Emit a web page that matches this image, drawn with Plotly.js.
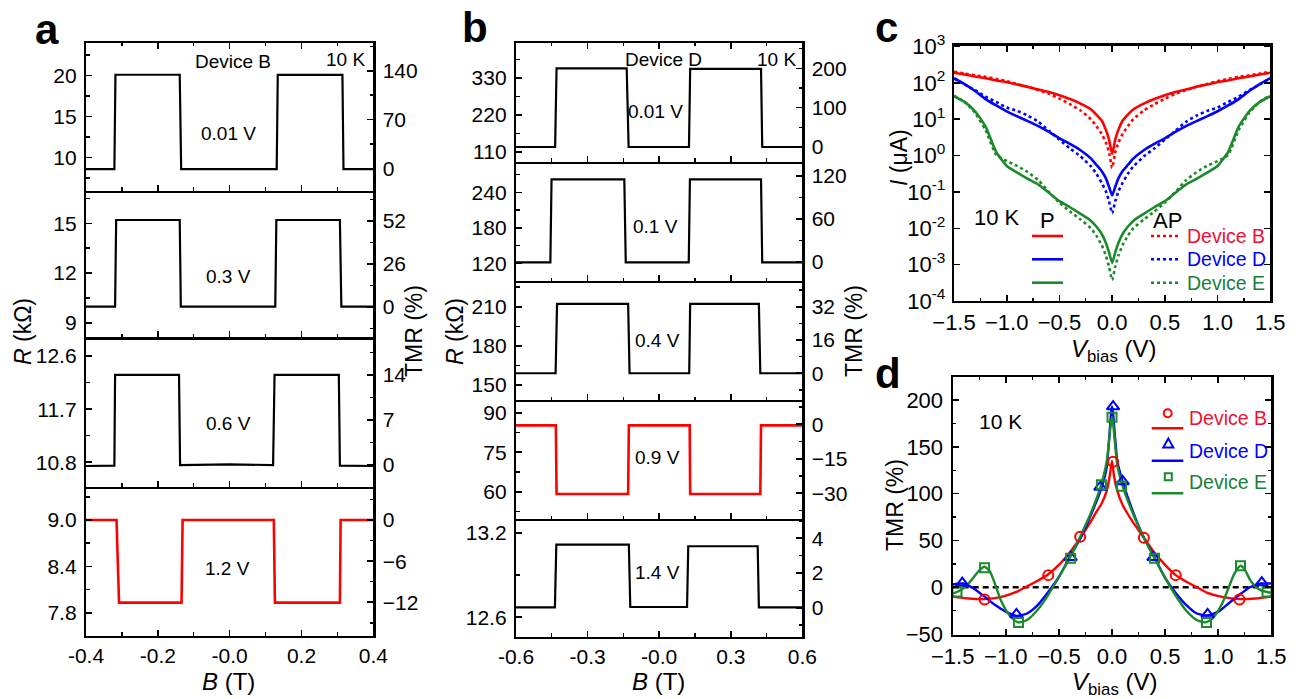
<!DOCTYPE html>
<html><head><meta charset="utf-8">
<script src="https://cdn.plot.ly/plotly-3.0.1.min.js"></script>
<style>html,body{margin:0;padding:0;background:#fff}#chart{width:1298px;height:699px}</style>
</head><body><div id="chart"></div>
<script>
// ================= DATA =================
// Panel a (Device B, 10 K): field sweep B (T) and resistance R (kΩ)
const a1_B = [-0.4, -0.321, -0.318, -0.139, -0.135, 0.131, 0.134, 0.314, 0.317, 0.4];
const a1_R = [8.55, 8.55, 20.07, 20.07, 8.55, 8.55, 20.05, 20.05, 8.55, 8.55];
const a2_B = [-0.4, -0.319, -0.316, -0.139, -0.136, 0.127, 0.130, 0.307, 0.311, 0.4];
const a2_R = [9.97, 9.97, 15.2, 15.2, 9.97, 9.97, 15.2, 15.2, 9.97, 9.97];
const a3_B = [-0.4, -0.321, -0.319, -0.141, -0.138, 0.0, 0.121, 0.125, 0.304, 0.307, 0.4];
const a3_R = [10.737, 10.745, 12.28, 12.28, 10.752, 10.766, 10.752, 12.28, 12.28, 10.745, 10.737];
const a4_B = [-0.4, -0.315, -0.308, -0.134, -0.131, 0.123, 0.126, 0.307, 0.309, 0.4];
const a4_R = [9.0, 9.0, 7.93, 7.93, 9.0, 9.0, 7.93, 7.93, 9.0, 9.0];
const aBias = ['0.01 V', '0.3 V', '0.6 V', '1.2 V'];

// Panel b (Device D, 10 K)
const b1_B = [-0.6, -0.436, -0.430, -0.136, -0.128, 0.125, 0.130, 0.427, 0.432, 0.6];
const b1_R = [124, 124, 358, 358, 124, 124, 356, 356, 124, 124];
const b2_B = [-0.6, -0.456, -0.451, -0.146, -0.140, 0.124, 0.129, 0.427, 0.432, 0.6];
const b2_R = [121.7, 121.7, 262, 262, 121.7, 121.7, 262, 262, 121.7, 121.7];
const b3_B = [-0.6, -0.434, -0.428, -0.130, -0.124, 0.126, 0.130, 0.418, 0.424, 0.6];
const b3_R = [159.0, 159.0, 212.1, 212.1, 159.0, 159.0, 212.1, 212.1, 159.0, 159.0];
const b4_B = [-0.6, -0.433, -0.430, -0.130, -0.127, 0.128, 0.130, 0.424, 0.427, 0.6];
const b4_R = [85.2, 85.2, 59.1, 59.1, 85.2, 85.2, 59.1, 59.1, 85.2, 85.2];
const b5_B = [-0.6, -0.437, -0.431, -0.127, -0.121, 0.117, 0.122, 0.413, 0.418, 0.6];
const b5_R = [12.671, 12.671, 13.115, 13.115, 12.673, 12.673, 13.104, 13.104, 12.671, 12.671];
const bBias = ['0.01 V', '0.1 V', '0.4 V', '0.9 V', '1.4 V'];

// Panel c: I-V curves, I (µA), P (solid) and AP (dotted)
const c_V = [-1.5,-1.4,-1.3,-1.2,-1.1,-1.0,-0.9,-0.8,-0.7,-0.6,-0.5,-0.4,-0.3,-0.2,-0.15,-0.1,-0.06,-0.03,0,
             0.03,0.06,0.1,0.15,0.2,0.3,0.4,0.5,0.6,0.7,0.8,0.9,1.0,1.1,1.2,1.3,1.4,1.5];
const cB_P  = [190,170,151,135,117,105,91,78,66,56,46,36,27,18.6,13.5,9.3,5.2,2.8,1.12,
               2.8,5.2,9.3,13.5,18.6,27,36,46,56,66,78,91,105,117,135,151,170,190];
const cB_AP = [204,182,162,148,129,112,93,78,63,50,37,26,17.4,10,6.5,4.0,2.3,1.26,0.46,
               1.26,2.3,4.0,6.5,10,17.4,26,37,50,63,78,93,112,129,148,162,182,204];
const cD_P  = [135,93,60,36,24,16.6,12,8.9,6.5,4.5,3.0,2.1,1.41,0.83,0.56,0.38,0.24,0.14,0.081,
               0.14,0.24,0.38,0.56,0.83,1.41,2.1,3.0,4.5,6.5,8.9,12,16.6,24,36,60,93,135];
const cD_AP = [132,91,63,42,30,21,17,12.6,8.5,4.8,2.75,1.58,0.95,0.50,0.32,0.18,0.105,0.056,0.026,
               0.056,0.105,0.18,0.32,0.50,0.95,1.58,2.75,4.8,8.5,12.6,17,21,30,42,63,91,132];
const cE_P  = [43,30,16.6,6.3,1.26,0.52,0.34,0.23,0.16,0.095,0.056,0.038,0.025,0.016,0.0112,0.0071,0.004,0.0022,0.00112,
               0.0022,0.004,0.0071,0.0112,0.016,0.025,0.038,0.056,0.095,0.16,0.23,0.34,0.52,1.26,6.3,16.6,30,43];
const cE_AP = [45,30,15,5.0,1.05,0.71,0.52,0.35,0.21,0.10,0.051,0.029,0.0174,0.010,0.0063,0.0035,0.0018,0.00089,0.00038,
               0.00089,0.0018,0.0035,0.0063,0.010,0.0174,0.029,0.051,0.10,0.21,0.35,0.52,0.71,1.05,5.0,15,30,45];
const cDevices = ['Device B', 'Device D', 'Device E'];

// Panel d: TMR (%) vs V_bias (V), measured points and guide lines
const dB_V = [-1.2,-0.6,-0.3,0.01,0.3,0.6,1.2];
const dB_T = [-13,13,54,134,53,13,-13];
const dD_V = [-1.41,-0.9,-0.39,-0.11,0.01,0.1,0.39,0.9,1.41];
const dD_T = [4.5,-29,32,107,193,113,32,-29,5];
const dE_V = [-1.46,-1.2,-0.88,-0.39,-0.1,0.0,0.09,0.4,0.89,1.21,1.46];
const dE_T = [-5,21,-37.5,31,109.6,181.7,108,31,-37.5,23,-5];
const dBl_V = [-1.5,-1.35,-1.2,-1.05,-0.9,-0.8,-0.7,-0.6,-0.5,-0.4,-0.3,-0.2,-0.15,-0.1,-0.05,-0.02,0,0.02,0.05,0.1,0.15,0.2,0.3,0.4,0.5,0.6,0.7,0.8,0.9,1.05,1.2,1.35,1.5];
const dBl_T = [-10,-12,-12.5,-10.5,-5,1,7,14,24,37,52.5,70,80,89,103,120,135,118,103,88,78,69,53,37,24,13,6,0,-6,-10.5,-12.5,-12,-10];
const dDl_V = [-1.5,-1.4,-1.3,-1.2,-1.1,-1.0,-0.9,-0.8,-0.7,-0.6,-0.5,-0.4,-0.3,-0.2,-0.1,-0.05,0,0.05,0.1,0.2,0.3,0.4,0.5,0.6,0.7,0.8,0.9,1.0,1.1,1.2,1.3,1.4,1.5];
const dDl_T = [3,4,-1.5,-10,-19,-26,-30.5,-28,-19,-5,11,32,52,77,106,128,193,135,113,80,53,32,10,-6,-19,-28,-30,-26,-17,-8,0,4,4];
const dEl_V = [-1.5,-1.46,-1.4,-1.35,-1.3,-1.25,-1.2,-1.15,-1.1,-1.05,-1.0,-0.95,-0.88,-0.8,-0.7,-0.6,-0.5,-0.4,-0.3,-0.2,-0.1,-0.05,0,0.05,0.1,0.2,0.3,0.4,0.5,0.6,0.7,0.8,0.88,0.95,1.0,1.05,1.1,1.15,1.21,1.25,1.3,1.35,1.4,1.46,1.5];
const dEl_T = [-6.5,-5,-1,4,11,18,22,17,3,-13,-24,-32,-37.5,-35,-24,-8,11,31,54,79,110,134,182,130,108,78,53,31,10,-9,-25,-35,-37.5,-33,-25,-14,0,14,23,19,8,1,-3,-5,-6];
const dZero_V = [-1.5, 1.5];
const dZero_T = [0, 0];

// ================= STYLE / LAYOUT =================
const W = 1298, H = 699;
const FONT = '"Liberation Sans", Arial, Helvetica, sans-serif';
const RED = '#ff0000', BLUE = '#0000ff', GREEN = '#1b8a2b';
const RED_T = '#ee1133', GREEN_T = '#17803a';
const layout = {
  width: W, height: H, margin: {l:0, r:0, t:0, b:0},
  paper_bgcolor: '#fff', plot_bgcolor: 'rgba(0,0,0,0)', showlegend: false,
  font: {family: FONT, size: 21, color: '#000'},
  annotations: [], shapes: []
};
const data = [];
let xi = 0, yi = 0;
const sfx = k => (k === 1 ? '' : String(k));
function baseAxis(fs) {
  return {showline: true, linewidth: 2.2, linecolor: '#000', ticks: 'inside', ticklen: 6,
    tickwidth: 1.6, tickcolor: '#000', zeroline: false, showgrid: false, fixedrange: true,
    tickfont: {family: FONT, size: fs || 21, color: '#000'}, ticklabelstandoff: 3};
}
function calRange(v1, p1, v2, p2, top, bot) {
  const s = (v1 - v2) / (p2 - p1);
  return [v1 + (p1 - bot) * s, v1 + (p1 - top) * s];
}
function minor(dt, t0) { return {ticks: 'inside', ticklen: 3.5, tickwidth: 1.4, tickcolor: '#000', tickmode: 'linear', tick0: t0, dtick: dt}; }
function ann(text, x, y, o) {
  layout.annotations.push(Object.assign({text, x: x / W, y: 1 - y / H, xref: 'paper', yref: 'paper',
    showarrow: false, xanchor: 'center', yanchor: 'middle', font: {family: FONT, size: 19, color: '#000'}}, o || {}));
}
function seg(x0, y0, x1, y1, color, dash, width) {
  layout.shapes.push({type: 'line', xref: 'paper', yref: 'paper', x0: x0 / W, x1: x1 / W, y0: 1 - y0 / H, y1: 1 - y1 / H,
    line: {color, width: width || 2.5, dash: dash || 'solid'}});
}

function strip(o) {
  xi++; const xs = sfx(xi);
  yi++; const yl = sfx(yi);
  yi++; const yr = sfx(yi);
  layout['xaxis' + xs] = Object.assign(baseAxis(), {
    domain: [o.xl / W, o.xr / W], range: o.xrange, anchor: 'y' + yl,
    tickmode: 'array', tickvals: o.xtv, ticktext: o.xtt, showticklabels: !!o.showX,
    mirror: o.first ? 'ticks' : false, minor: minor(o.xminor, o.xtv[0]), ticklabelstandoff: 0
  });
  layout['yaxis' + yl] = Object.assign(baseAxis(), {
    domain: [1 - o.bot / H, 1 - o.top / H], range: calRange(...o.L, o.top, o.bot), anchor: 'x' + xs,
    side: 'left', tickmode: 'linear', tick0: o.Lt0 || 0, dtick: o.Ld, tickformat: o.Lfmt || '',
    minor: minor(o.Ld / 2, o.Lt0 || 0)
  });
  layout['yaxis' + yr] = Object.assign(baseAxis(), {
    overlaying: 'y' + yl, range: calRange(...o.R, o.top, o.bot), anchor: 'x' + xs,
    side: 'right', tickmode: 'linear', tick0: 0, dtick: o.Rd, minor: minor(o.Rd / 2, 0)
  });
  data.push({type: 'scatter', mode: 'lines', x: o.B, y: o.Rv, xaxis: 'x' + xs, yaxis: 'y' + yl,
    line: {color: o.color, width: o.color === RED ? 2.6 : 2.2}, hoverinfo: 'skip'});
  data.push({type: 'scatter', mode: 'lines', x: [], y: [], xaxis: 'x' + xs, yaxis: 'y' + yr, hoverinfo: 'skip'});
}

// ---- Panel a ----
const aX = {xl: 86, xr: 373.3, xrange: [-0.4, 0.4], xtv: [-0.4, -0.2, 0, 0.2, 0.4],
  xtt: ['-0.4', '-0.2', '-0.0', '0.2', '0.4'], xminor: 0.1};
strip(Object.assign({}, aX, {first: true, top: 42.7, bot: 190.7, L: [20, 75.3, 10, 157.3], Ld: 5,
  R: [140, 70.7, 0, 168.3], Rd: 70, B: a1_B, Rv: a1_R, color: '#000'}));
strip(Object.assign({}, aX, {top: 190.7, bot: 337.3, L: [15, 223.3, 9, 322.7], Ld: 3,
  R: [52, 220.7, 0, 306.7], Rd: 26, B: a2_B, Rv: a2_R, color: '#000'}));
strip(Object.assign({}, aX, {top: 337.3, bot: 486.7, L: [12.6, 356, 10.8, 462.3], Ld: 0.9, Lt0: 10.8, Lfmt: '.1f',
  R: [14, 375, 0, 465], Rd: 7, B: a3_B, Rv: a3_R, color: '#000'}));
strip(Object.assign({}, aX, {showX: true, top: 486.7, bot: 635.7, L: [9.0, 520, 7.8, 612.7], Ld: 0.6, Lt0: 7.8, Lfmt: '.1f',
  R: [0, 520, -12, 602.3], Rd: 6, B: a4_B, Rv: a4_R, color: RED}));

// ---- Panel b ----
const bX = {xl: 516, xr: 802.3, xrange: [-0.6, 0.6], xtv: [-0.6, -0.3, 0, 0.3, 0.6],
  xtt: ['-0.6', '-0.3', '-0.0', '0.3', '0.6'], xminor: 0.15};
strip(Object.assign({}, bX, {first: true, top: 42.7, bot: 161.7, L: [330, 77.7, 110, 151.7], Ld: 110,
  R: [200, 68.3, 0, 147], Rd: 100, B: b1_B, Rv: b1_R, color: '#000'}));
strip(Object.assign({}, bX, {top: 161.7, bot: 281, L: [240, 192.3, 120, 263.3], Ld: 60,
  R: [120, 175.7, 0, 261.7], Rd: 60, B: b2_B, Rv: b2_R, color: '#000'}));
strip(Object.assign({}, bX, {top: 281, bot: 400, L: [210, 306.7, 150, 385], Ld: 30,
  R: [32, 306.7, 0, 373.3], Rd: 16, B: b3_B, Rv: b3_R, color: '#000'}));
strip(Object.assign({}, bX, {top: 400, bot: 519, L: [90, 412.7, 60, 491.7], Ld: 15,
  R: [0, 424.3, -30, 493.3], Rd: 15, B: b4_B, Rv: b4_R, color: RED}));
strip(Object.assign({}, bX, {showX: true, top: 519, bot: 636.7, L: [13.2, 532.7, 12.6, 617.3], Ld: 0.6, Lt0: 12.6, Lfmt: '.1f',
  R: [4, 538.3, 0, 607.7], Rd: 2, B: b5_B, Rv: b5_R, color: '#000'}));

// ---- Panel c ----
xi++; const cx = sfx(xi); yi++; const cy = sfx(yi);
layout['xaxis' + cx] = Object.assign(baseAxis(22), {domain: [954 / W, 1270.3 / W], range: [-1.5, 1.5], anchor: 'y' + cy,
  tickmode: 'linear', tick0: -1.5, dtick: 0.5, tickformat: '.1f', mirror: 'ticks', minor: minor(0.25, -1.5), ticklabelstandoff: 0});
const cExp = [-4, -3, -2, -1, 0, 1, 2, 3];
layout['yaxis' + cy] = Object.assign(baseAxis(22), {domain: [1 - 301 / H, 1 - 45.5 / H], type: 'log', range: [-4, 3.03],
  anchor: 'x' + cx, tickmode: 'array', tickvals: cExp.map(e => Math.pow(10, e)),
  ticktext: cExp.map(e => '10<sup>' + e + '</sup>'), mirror: 'ticks', ticklabelstandoff: 2});
const cSeries = [[cB_P, cB_AP, RED], [cD_P, cD_AP, BLUE], [cE_P, cE_AP, GREEN]];
cSeries.forEach(([p, ap, col]) => {
  data.push({type: 'scatter', mode: 'lines', x: c_V, y: ap, xaxis: 'x' + cx, yaxis: 'y' + cy,
    line: {color: col, width: 2.6, dash: 'dot', shape: 'spline', smoothing: 0.5}, hoverinfo: 'skip'});
  data.push({type: 'scatter', mode: 'lines', x: c_V, y: p, xaxis: 'x' + cx, yaxis: 'y' + cy,
    line: {color: col, width: 2.6, shape: 'spline', smoothing: 0.5}, hoverinfo: 'skip'});
});

// ---- Panel d ----
xi++; const dx = sfx(xi); yi++; const dy = sfx(yi);
layout['xaxis' + dx] = Object.assign(baseAxis(22), {domain: [952.7 / W, 1271.3 / W], range: [-1.5, 1.5], anchor: 'y' + dy,
  tickmode: 'linear', tick0: -1.5, dtick: 0.5, tickformat: '.1f', mirror: 'ticks', minor: minor(0.25, -1.5), ticklabelstandoff: 0});
layout['yaxis' + dy] = Object.assign(baseAxis(22), {domain: [1 - 635 / H, 1 - 376.7 / H],
  range: calRange(200, 400, 0, 587.3, 376.7, 635), anchor: 'x' + dx,
  tickmode: 'linear', tick0: 0, dtick: 50, mirror: 'ticks', minor: minor(25, 0)});
data.push({type: 'scatter', mode: 'lines', x: dZero_V, y: dZero_T, xaxis: 'x' + dx, yaxis: 'y' + dy,
  line: {color: '#000', width: 2.4, dash: '6px,4px'}, hoverinfo: 'skip'});
[[dBl_V, dBl_T, RED], [dDl_V, dDl_T, BLUE], [dEl_V, dEl_T, GREEN]].forEach(([v, t, col]) => {
  data.push({type: 'scatter', mode: 'lines', x: v, y: t, xaxis: 'x' + dx, yaxis: 'y' + dy,
    line: {color: col, width: 2.4, shape: 'spline', smoothing: 0.6}, hoverinfo: 'skip'});
});
[[dB_V, dB_T, RED, 'circle-open', 10], [dD_V, dD_T, BLUE, 'triangle-up-open', 11], [dE_V, dE_T, GREEN, 'square-open', 9]].forEach(([v, t, col, sym, sz]) => {
  data.push({type: 'scatter', mode: 'markers', x: v, y: t, xaxis: 'x' + dx, yaxis: 'y' + dy,
    marker: {symbol: sym, size: sz, color: col, line: {color: col, width: 2}}, hoverinfo: 'skip'});
});

// ================= TEXT / LEGENDS =================
const bold = {font: {family: FONT, size: 42, color: '#000'}, xanchor: 'left'};
ann('<b>a</b>', 33, 30, bold);
ann('<b>b</b>', 460, 27, bold);
ann('<b>c</b>', 873, 27, bold);
ann('<b>d</b>', 873, 373, bold);

const tfont = s => ({font: {family: FONT, size: s, color: '#000'}});
// panel a
ann('Device B', 233, 61.7);
ann('10 K', 345, 60);
[[228, 133.3], [228, 277], [228, 423.3], [227.5, 568]].forEach((p, i) => ann(aBias[i], p[0], p[1]));
ann('<i>R</i> (kΩ)', 23, 332, Object.assign({textangle: -90}, tfont(23)));
ann('TMR (%)', 414, 331, Object.assign({textangle: -90}, tfont(23)));
ann('<i>B</i> (T)', 228, 681.5, tfont(24));
// panel b
ann('Device D', 663, 60);
ann('10 K', 776, 60);
[[655, 111.7], [655, 226.7], [657, 340], [657, 457.3], [657, 572.3]].forEach((p, i) => ann(bBias[i], p[0], p[1]));
ann('<i>R</i> (kΩ)', 455, 332, Object.assign({textangle: -90}, tfont(23)));
ann('TMR (%)', 854, 331, Object.assign({textangle: -90}, tfont(23)));
ann('<i>B</i> (T)', 658, 681.5, tfont(24));
// panel c
ann('<i>I</i> (μA)', 899, 158, Object.assign({textangle: -90}, tfont(23)));
ann('<i>V</i><sub>bias</sub> (V)', 1113, 350, tfont(24));
ann('10 K', 997, 218, tfont(22));
ann('P', 1047, 220, tfont(22));
ann('AP', 1167, 220, tfont(22));
const cLegY = [236, 259.3, 282.7], cCols = [RED, BLUE, GREEN], cTxt = [RED_T, BLUE, GREEN_T];
cLegY.forEach((y, i) => {
  seg(1032, y, 1063, y, cCols[i], 'solid', 2.6);
  seg(1151, y, 1180, y, cCols[i], 'dot', 2.6);
  ann(cDevices[i], 1185, y, {xanchor: 'left', font: {family: FONT, size: 19.5, color: cTxt[i]}});
});
// panel d
ann('TMR (%)', 895, 505, Object.assign({textangle: -90}, tfont(23)));
ann('<i>V</i><sub>bias</sub> (V)', 1114, 683, tfont(24));
ann('10 K', 1000, 421, tfont(21));
const P = (x, y) => (x / W) + ',' + (1 - y / H);
layout.shapes.push({type: 'circle', xref: 'paper', yref: 'paper', x0: 1163.7 / W, x1: 1171.7 / W, y0: 1 - 417.3 / H, y1: 1 - 409.3 / H, line: {color: RED, width: 2}});
layout.shapes.push({type: 'path', xref: 'paper', yref: 'paper', path: 'M' + P(1168.3, 438.6) + 'L' + P(1163.3, 447.4) + 'L' + P(1173.3, 447.4) + 'Z', line: {color: BLUE, width: 2}});
layout.shapes.push({type: 'rect', xref: 'paper', yref: 'paper', x0: 1164.8 / W, x1: 1171.8 / W, y0: 1 - 480.2 / H, y1: 1 - 473.2 / H, line: {color: GREEN, width: 2}});
[[428.3, RED, RED_T, 418.3], [460.7, BLUE, BLUE, 450.7], [493.3, GREEN, GREEN_T, 481.7]].forEach(([ly, col, tc, ty], i) => {
  seg(1151.7, ly, 1183.3, ly, col, 'solid', 2.4);
  ann(cDevices[i], 1186.7, ty, {xanchor: 'left', font: {family: FONT, size: 19.5, color: tc}});
});

Plotly.newPlot('chart', data, layout, {staticPlot: true, displayModeBar: false});
</script>
</body></html>
